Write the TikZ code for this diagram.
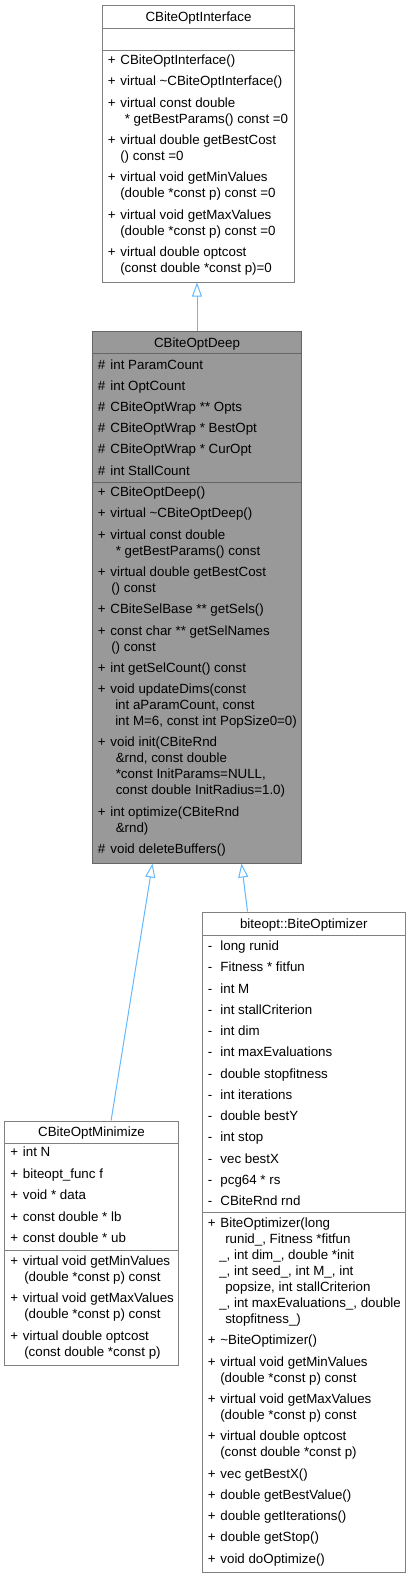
\documentclass[tikz,border=0pt]{standalone}
\usepackage{fontspec}
\setmainfont{Liberation Sans}
\usetikzlibrary{arrows.meta,fit,calc}
\definecolor{edgeblue}{HTML}{63B8FF}
\definecolor{boxline}{HTML}{808080}
\definecolor{deepfill}{HTML}{999999}
\definecolor{deepline}{HTML}{666666}
\newcounter{ln}
\newcommand\umem[4]{\stepcounter{ln}\node[txt] (l\arabic{ln}) at (#1,{#2+4.5}) {\makebox[9.5pt][l]{#3}#4};}
\newcommand\ucont[3]{\stepcounter{ln}\node[txt] (l\arabic{ln}) at (#1,{#2+4.5}) {#3};}
\begin{document}
\begin{tikzpicture}[x=0.75pt,y=-0.75pt,
  font=\fontsize{10pt}{12pt}\selectfont,
  box/.style={draw=boxline, line width=0.75pt, inner sep=0pt, fill=white},
  deepbox/.style={draw=deepline, line width=0.75pt, inner sep=0pt, fill=deepfill},
  sepline/.style={draw=boxline, line width=0.75pt},
  deepsep/.style={draw=deepline, line width=0.75pt},
  txt/.style={anchor=base west, inner sep=0pt, text=black},
  ttl/.style={anchor=base, inner sep=0pt, text=black},
  inh/.style={draw=edgeblue, line width=0.75pt, -{Triangle[open, length=10.5pt, width=7.5pt]}}]
\useasboundingbox (0,0) rectangle (411,1579);

% ---------- boxes ----------
\node[box, fit={(102.5,5) (294.5,282)}] (iface) {};
\node[deepbox, fit={(92.3,331) (301.7,863)}] (deep) {};
\node[box, fit={(4.5,1121) (178.5,1365)}] (mini) {};
\node[box, fit={(202.5,912) (405,1572)}] (bopt) {};

% ---------- separators ----------
\draw[sepline] ($(iface.north west)+(0,24)$) -- ($(iface.north east)+(0,24)$);
\draw[sepline] ($(iface.north west)+(0,46)$) -- ($(iface.north east)+(0,46)$);
\draw[deepsep] ($(deep.north west)+(0,23)$) -- ($(deep.north east)+(0,23)$);
\draw[deepsep] ($(deep.north west)+(0,152)$) -- ($(deep.north east)+(0,152)$);
\draw[sepline] ($(mini.north west)+(0,23)$) -- ($(mini.north east)+(0,23)$);
\draw[sepline] ($(mini.north west)+(0,130)$) -- ($(mini.north east)+(0,130)$);
\draw[sepline] ($(bopt.north west)+(0,24)$) -- ($(bopt.north east)+(0,24)$);
\draw[sepline] ($(bopt.north west)+(0,301.3)$) -- ($(bopt.north east)+(0,301.3)$);

% ---------- CBiteOptInterface ----------
\node[ttl] (tiface) at (198.5,21.5) {CBiteOptInterface};
\umem{107.5}{60}{+}{CBiteOptInterface()}
\umem{107.5}{81.3}{+}{virtual \textasciitilde CBiteOptInterface()}
\umem{107.5}{102.6}{+}{virtual const double}
\ucont{124.5}{118.6}{* getBestParams() const =0}
\umem{107.5}{139.9}{+}{virtual double getBestCost}
\ucont{120}{155.9}{() const =0}
\umem{107.5}{177.2}{+}{virtual void getMinValues}
\ucont{120}{193.2}{(double *const p) const =0}
\umem{107.5}{214.5}{+}{virtual void getMaxValues}
\ucont{120}{230.5}{(double *const p) const =0}
\umem{107.5}{251.8}{+}{virtual double optcost}
\ucont{120}{267.8}{(const double *const p)=0}

% ---------- CBiteOptDeep ----------
\node[ttl] (tdeep) at (197,347.5) {CBiteOptDeep};
\umem{97.5}{364.5}{\#}{int ParamCount}
\umem{97.5}{385.7}{\#}{int OptCount}
\umem{97.5}{406.9}{\#}{CBiteOptWrap ** Opts}
\umem{97.5}{428.1}{\#}{CBiteOptWrap * BestOpt}
\umem{97.5}{449.3}{\#}{CBiteOptWrap * CurOpt}
\umem{97.5}{470.5}{\#}{int StallCount}
\umem{97.5}{492}{+}{CBiteOptDeep()}
\umem{97.5}{513.3}{+}{virtual \textasciitilde CBiteOptDeep()}
\umem{97.5}{534.6}{+}{virtual const double}
\ucont{115.5}{550.6}{* getBestParams() const}
\umem{97.5}{571.9}{+}{virtual double getBestCost}
\ucont{111}{587.9}{() const}
\umem{97.5}{609.2}{+}{CBiteSelBase ** getSels()}
\umem{97.5}{630.5}{+}{const char ** getSelNames}
\ucont{111}{646.5}{() const}
\umem{97.5}{667.8}{+}{int getSelCount() const}
\umem{97.5}{689.1}{+}{void updateDims(const}
\ucont{115}{705.1}{int aParamCount, const}
\ucont{115}{721.1}{int M=6, const int PopSize0=0)}
\umem{97.5}{742.4}{+}{void init(CBiteRnd}
\ucont{115.5}{758.4}{\&rnd, const double}
\ucont{115.5}{774.4}{*const InitParams=NULL,}
\ucont{115.5}{790.4}{const double InitRadius=1.0)}
\umem{97.5}{811.7}{+}{int optimize(CBiteRnd}
\ucont{115.5}{827.7}{\&rnd)}
\umem{97.5}{849}{\#}{void deleteBuffers()}

% ---------- CBiteOptMinimize ----------
\node[ttl] (tmini) at (91.5,1136.5) {CBiteOptMinimize};
\umem{10}{1152}{+}{int N}
\umem{10}{1173.5}{+}{biteopt\_func f}
\umem{10}{1195}{+}{void * data}
\umem{10}{1216.5}{+}{const double * lb}
\umem{10}{1238}{+}{const double * ub}
\umem{10}{1261}{+}{virtual void getMinValues}
\ucont{24}{1277}{(double *const p) const}
\umem{10}{1298.3}{+}{virtual void getMaxValues}
\ucont{24}{1314.3}{(double *const p) const}
\umem{10}{1335.6}{+}{virtual double optcost}
\ucont{24}{1351.6}{(const double *const p)}

% ---------- biteopt::BiteOptimizer ----------
\node[ttl] (tbopt) at (303.75,928.5) {biteopt::BiteOptimizer};
\umem{207.5}{946}{-}{long runid}
\umem{207.5}{967.25}{-}{Fitness * fitfun}
\umem{207.5}{988.5}{-}{int M}
\umem{207.5}{1009.75}{-}{int stallCriterion}
\umem{207.5}{1031}{-}{int dim}
\umem{207.5}{1052.25}{-}{int maxEvaluations}
\umem{207.5}{1073.5}{-}{double stopfitness}
\umem{207.5}{1094.75}{-}{int iterations}
\umem{207.5}{1116}{-}{double bestY}
\umem{207.5}{1137.25}{-}{int stop}
\umem{207.5}{1158.5}{-}{vec bestX}
\umem{207.5}{1179.75}{-}{pcg64 * rs}
\umem{207.5}{1201}{-}{CBiteRnd rnd}
\umem{207.5}{1223}{+}{BiteOptimizer(long}
\ucont{225}{1239}{runid\_, Fitness *fitfun}
\ucont{219}{1255}{\_, int dim\_, double *init}
\ucont{219}{1271}{\_, int seed\_, int M\_, int}
\ucont{225}{1287}{popsize, int stallCriterion}
\ucont{219}{1303}{\_, int maxEvaluations\_, double}
\ucont{225}{1319}{stopfitness\_)}
\umem{207.5}{1340.3}{+}{\textasciitilde BiteOptimizer()}
\umem{207.5}{1361.6}{+}{virtual void getMinValues}
\ucont{220}{1377.6}{(double *const p) const}
\umem{207.5}{1398.9}{+}{virtual void getMaxValues}
\ucont{220}{1414.9}{(double *const p) const}
\umem{207.5}{1436.2}{+}{virtual double optcost}
\ucont{220}{1452.2}{(const double *const p)}
\umem{207.5}{1473.5}{+}{vec getBestX()}
\umem{207.5}{1494.8}{+}{double getBestValue()}
\umem{207.5}{1516.1}{+}{double getIterations()}
\umem{207.5}{1537.4}{+}{double getStop()}
\umem{207.5}{1558.7}{+}{void doOptimize()}

% ---------- inheritance arrows ----------
\draw[inh] (deep.north) -- (deep.north |- iface.south);
\draw[inh] ($(mini.north west)+(107.1,0)$) -- ($(deep.south west)+(60.7,0)$);
\draw[inh] ($(bopt.north west)+(45.5,0)$) -- ($(deep.south west)+(149.7,0)$);
\end{tikzpicture}
\end{document}
